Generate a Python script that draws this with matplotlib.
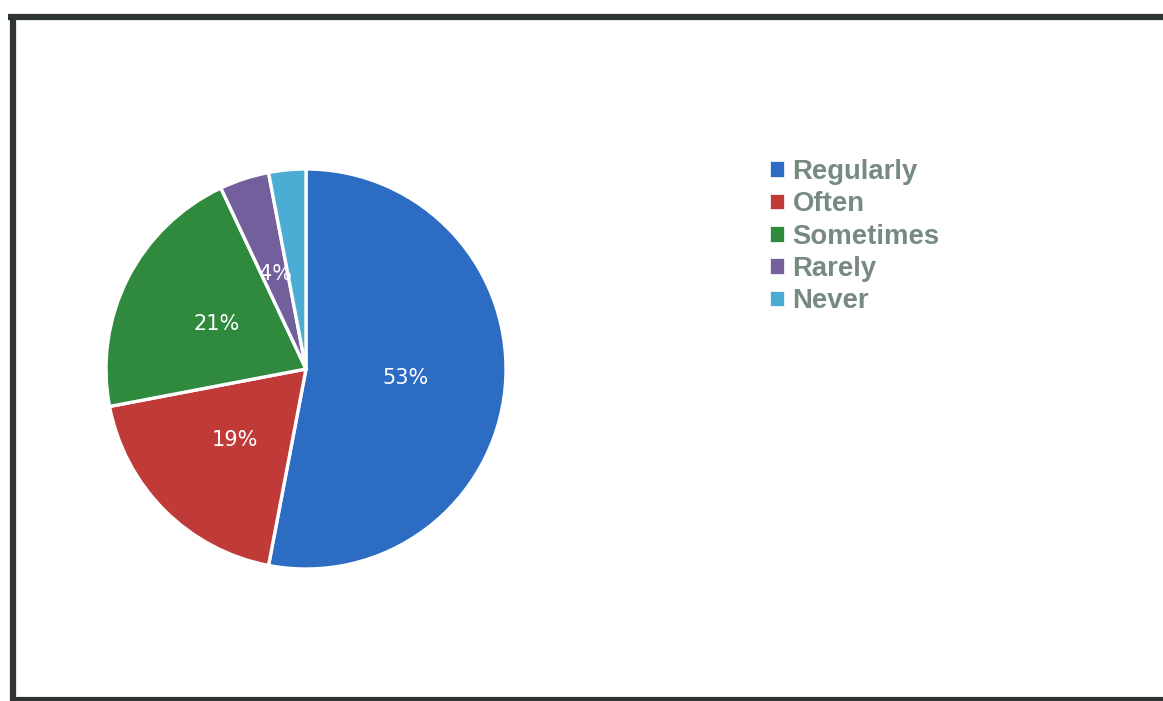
import numpy as np
import matplotlib.pyplot as plt
from matplotlib.lines import Line2D

categories = ["Regularly", "Often", "Sometimes", "Rarely", "Never"]
shares = [53, 19, 21, 4, 3]
colors = ["#2c6cc2", "#c03a37", "#2f8a3e", "#725f9c", "#4badd4"]
# the "Never" slice shows no percentage in the original
shown_labels = ["53%", "19%", "21%", "4%", ""]

fig = plt.figure(figsize=(11.63, 7.01), dpi=100)
W, H = 1163, 701

# pie: centre ~ (306, 369) px, radius ~ 200 px
ax = fig.add_axes([106 / W, (H - 369 - 200) / H, 400 / W, 400 / H])
wedges, texts = ax.pie(shares, colors=colors, startangle=90, counterclock=False,
                       wedgeprops=dict(edgecolor="white", linewidth=2.4))
for w, lab in zip(wedges, shown_labels):
    ang = np.deg2rad((w.theta1 + w.theta2) / 2)
    if lab:
        ax.text(0.5 * np.cos(ang), 0.5 * np.sin(ang), lab, ha="center", va="center",
                color="white", fontsize=15, family="DejaVu Sans")
ax.set_xlim(-1, 1)
ax.set_ylim(-1, 1)

leg = fig.legend(wedges, categories, loc="upper left",
                 bbox_to_anchor=(770 / W, 1 - 159 / H), frameon=False,
                 handlelength=0.5, handleheight=0.5, handletextpad=0.32,
                 labelspacing=0.23, borderpad=0, borderaxespad=0,
                 prop=dict(family="Liberation Sans", weight="bold", size=19.8),
                 labelcolor="#768a80")
for h in leg.legend_handles:
    h.set_edgecolor("white")
    h.set_linewidth(0.5)

# scanned frame around the chart
frame_color = "#2e3533"
fig.add_artist(Line2D([8 / W, 1], [1 - 17 / H, 1 - 17 / H], color=frame_color, lw=4.5,
                      transform=fig.transFigure, solid_capstyle="butt"))
fig.add_artist(Line2D([13 / W, 13 / W], [1 - 14 / H, 0], color=frame_color, lw=4.5,
                      transform=fig.transFigure, solid_capstyle="butt"))
fig.add_artist(Line2D([10 / W, 1], [1 - 699 / H, 1 - 699 / H], color=frame_color, lw=3,
                      transform=fig.transFigure, solid_capstyle="butt"))

fig.savefig("out.png", dpi=100, facecolor="white")
